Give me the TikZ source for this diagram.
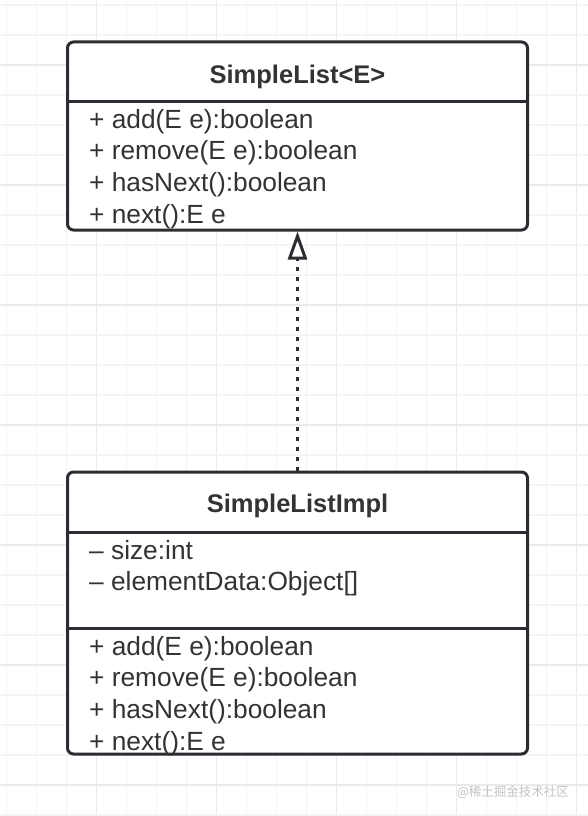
\documentclass[tikz,border=0pt]{standalone}
\usepackage{fontspec}
\setmainfont{Liberation Sans}
\newfontfamily\cjkfont{Noto Sans CJK SC}
\usetikzlibrary{arrows.meta}

\definecolor{gridMinor}{HTML}{F4F4F4}
\definecolor{gridMajor}{HTML}{EAEAEA}
\definecolor{frameColor}{HTML}{2A2D31}
\definecolor{textColor}{HTML}{333333}
\definecolor{markColor}{HTML}{C4C4C4}

\tikzset{
  classbox/.style={draw=frameColor, fill=white, line width=3, rounded corners=6,
    minimum width=460, minimum height=#1, inner sep=0},
  classname/.style={text=textColor, inner sep=0, anchor=base,
    font=\fontsize{25.5}{30}\selectfont\bfseries},
  member/.style={text=textColor, inner sep=0, anchor=base west,
    font=\fontsize{26.3}{31}\selectfont},
  divider/.style={draw=frameColor, line width=3}
}

\begin{document}
\begin{tikzpicture}[x=1pt,y=-1pt]

  \useasboundingbox (0,0) rectangle (588,816);
  \fill[white] (0,0) rectangle (588,816);

  \foreach \x in {0,...,19}
  {
    \pgfmathtruncatemacro\major{Mod(\x,4)==3}
    \ifnum\major=1
      \draw[gridMajor, line width=1.5] ({6.7+30*\x},0) -- ({6.7+30*\x},816);
    \else
      \draw[gridMinor, line width=1.2] ({6.7+30*\x},0) -- ({6.7+30*\x},816);
    \fi
  }
  \foreach \y in {0,...,27}
  {
    \pgfmathtruncatemacro\major{Mod(\y,4)==2}
    \ifnum\major=1
      \draw[gridMajor, line width=1.5] (0,{5+30*\y}) -- (588,{5+30*\y});
    \else
      \draw[gridMinor, line width=1.2] (0,{5+30*\y}) -- (588,{5+30*\y});
    \fi
  }

  \node[classbox=188] (list) at (297.5,136) {};
  \node[classbox=282] (impl) at (297.5,613) {};

  \coordinate (listsep) at (0,101);
  \coordinate (implsepa) at (0,532);
  \coordinate (implsepb) at (0,628);
  \draw[divider] (list.west |- listsep) -- (list.east |- listsep);
  \draw[divider] (impl.west |- implsepa) -- (impl.east |- implsepa);
  \draw[divider] (impl.west |- implsepb) -- (impl.east |- implsepb);

  \node[classname] (listname) at (297.5,83.5) {SimpleList<E>};
  \node[classname] (implname) at (297.5,512.5) {SimpleListImpl};

  \foreach \op [count=\i from 0] in {{add(E e):boolean},{remove(E e):boolean},{hasNext():boolean},{next():E e}}
  {
    \node[member] (listop\i) at (89,{128+31.7*\i}) {+ \op};
    \node[member] (implop\i) at (89,{655+31.7*\i}) {+ \op};
  }
  \foreach \field [count=\i from 0] in {{size:int},{elementData:Object[]}}
    \node[member] (implfield\i) at (89,{559+31.7*\i}) {– \field};

  \draw[frameColor, line width=3, dash pattern=on 3.3 off 6.7,
    -{Triangle[fill=white, length=28, width=19]}] (impl.north) -- (list.south);

  \node[text=markColor, inner sep=0, font=\cjkfont\fontsize{12.5}{15}\selectfont]
    (mark) at (513,792) {@稀土掘金技术社区};

\end{tikzpicture}
\end{document}
